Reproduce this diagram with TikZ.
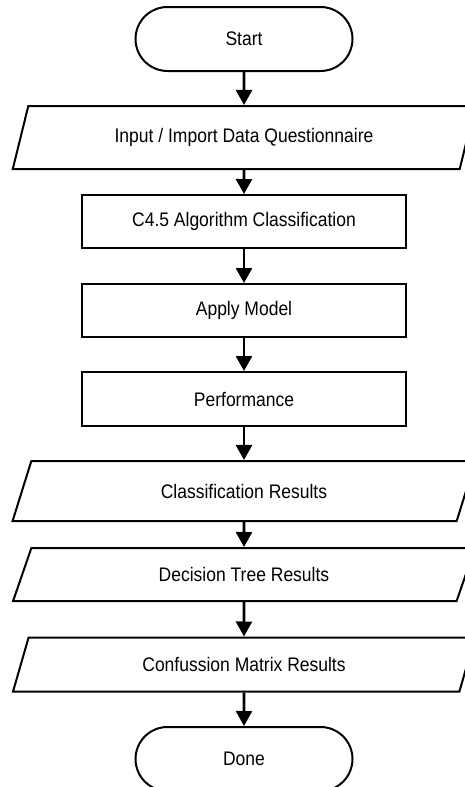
\documentclass[tikz,border=0pt]{standalone}
\usepackage{fontspec}
\setmainfont{Liberation Sans}
\usetikzlibrary{shapes.misc,shapes.geometric,arrows.meta}
\newcommand{\tall}[1]{\scalebox{1}[1.12]{#1}}

\begin{document}
\begin{tikzpicture}[x=1pt,y=1pt,
    font=\fontsize{17.5}{20}\selectfont,
    term/.style={draw,line width=2pt,rounded rectangle,minimum width=217pt,minimum height=64pt,inner sep=0pt},
    io/.style={draw,line width=2pt,trapezium,trapezium left angle=63,trapezium right angle=117,
        trapezium stretches=true,minimum width=463pt,inner sep=0pt},
    proc/.style={draw,line width=2pt,rectangle,minimum width=324pt,minimum height=53pt,inner sep=0pt},
    arr/.style={line width=2.6pt,-{Triangle[width=16pt,length=15pt]}}]
    \useasboundingbox (0,0) rectangle (464,-787);
    \coordinate (P1) at (244,-39);
    \coordinate (P2) at (244,-137.5);
    \coordinate (P3) at (244,-221.5);
    \coordinate (P4) at (244,-310.5);
    \coordinate (P5) at (244,-399);
    \coordinate (P6) at (244,-491);
    \coordinate (P7) at (244,-574.5);
    \coordinate (P8) at (244,-664.5);
    \coordinate (P9) at (244,-759);
    %
    \node[term] (start) at (P1) {\tall{Start}};
    \node[io,minimum height=63pt] (input) at (P2) {\tall{Input / Import Data Questionnaire}};
    \node[proc] (algo) at (P3) {\tall{C4.5 Algorithm Classification}};
    \node[proc] (apply) at (P4) {\tall{Apply Model}};
    \node[proc,minimum height=54pt] (perf) at (P5) {\tall{Performance}};
    \node[io,minimum height=60pt] (classres) at (P6) {\tall{Classification Results}};
    \node[io,minimum height=53pt] (treeres) at (P7) {\tall{Decision Tree Results}};
    \node[io,minimum height=54pt] (cmres) at (P8) {\tall{Confussion Matrix Results}};
    \node[term] (done) at (P9) {\tall{Done}};
    %
    \draw[arr] (start) -- (input);
    \draw[arr] (input) -- (algo);
    \draw[arr] (algo) -- (apply);
    \draw[arr] (apply) -- (perf);
    \draw[arr] (perf) -- (classres);
    \draw[arr] (classres) -- (treeres);
    \draw[arr] (treeres) -- (cmres);
    \draw[arr] (cmres) -- (done);
    %
\end{tikzpicture}
\end{document}
